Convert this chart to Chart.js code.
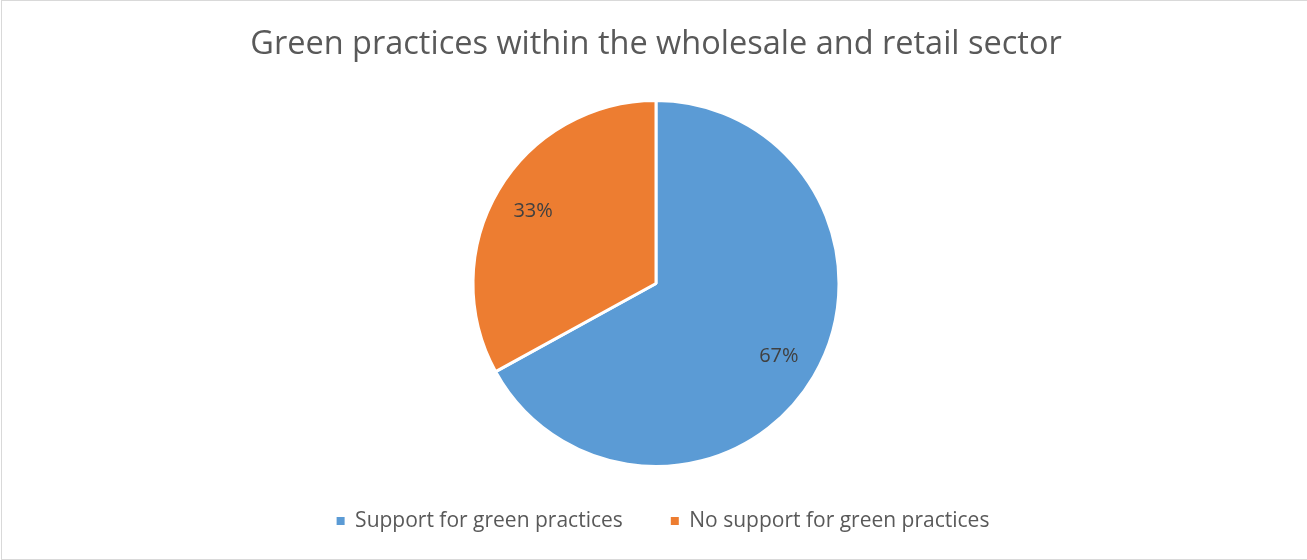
<!DOCTYPE html>
<html>
<head>
<meta charset="utf-8">
<title>Green practices</title>
<script src="https://cdn.jsdelivr.net/npm/chart.js@4/dist/chart.umd.min.js"></script>
<style>
  html, body { margin: 0; padding: 0; background: #fff; }
  .chart-view {
    position: relative;
    width: 1307px;
    height: 560px;
    box-sizing: border-box;
    border: 1px solid #d9d9d9;
    border-right: none;
    margin-left: 1px;
  }
  .chart { position: absolute; left: -1px; top: -1px; }
</style>
</head>
<body>
<div class="chart-view">
  <canvas class="chart" width="1307" height="560"></canvas>
</div>
<script>
const title = 'Green practices within the wholesale and retail sector';
const categories = ['Support for green practices', 'No support for green practices'];
const shares = [67, 33];
const colors = ['#5b9bd5', '#ed7d31'];

const FONT = `'Open Sans', 'Noto Sans', sans-serif`;
Chart.defaults.font.family = FONT;
Chart.defaults.color = '#595959';

// Fixed legend block height so the row sits near the bottom edge,
// and nudge the row a little to the right
const legendMargin = {
  id: 'legendMargin',
  beforeInit(chart) {
    const originalFit = chart.legend.fit;
    chart.legend.fit = function fit() {
      originalFit.bind(chart.legend)();
      this.height = 97.5;
    };
  },
  afterLayout(chart) {
    chart.legend.left += 7;
    chart.legend.right += 7;
  },
};

// Percent labels inside each slice
const sliceLabels = {
  id: 'sliceLabels',
  afterDatasetsDraw(chart) {
    const { ctx } = chart;
    const meta = chart.getDatasetMeta(0);
    ctx.save();
    ctx.font = `20px ${FONT}`;
    ctx.fillStyle = '#404040';
    ctx.textAlign = 'center';
    ctx.textBaseline = 'middle';
    meta.data.forEach((arc, i) => {
      const { x, y, startAngle, endAngle, outerRadius } = arc.getProps(
        ['x', 'y', 'startAngle', 'endAngle', 'outerRadius'], true);
      const mid = (startAngle + endAngle) / 2;
      const r = outerRadius * 0.78;
      ctx.fillText(`${shares[i]}%`, x + Math.cos(mid) * r, y + Math.sin(mid) * r);
    });
    ctx.restore();
  },
};

const canvas = document.querySelector('.chart');
const chart = new Chart(canvas, {
  type: 'pie',
  data: {
    labels: categories,
    datasets: [{
      data: shares,
      backgroundColor: colors,
      borderColor: '#ffffff',
      borderWidth: 3,
    }],
  },
  plugins: [legendMargin, sliceLabels],
  options: {
    responsive: false,
    animation: false,
    radius: 183,
    layout: { padding: { left: 3 } },
    plugins: {
      legendMargin,
      tooltip: { enabled: false },
      title: {
        display: true,
        text: title,
        color: '#595959',
        font: { size: 32.5, weight: 'normal' },
        padding: { top: 25, bottom: 40.5 },
      },
      legend: {
        display: true,
        position: 'bottom',
        labels: {
          boxWidth: 8,
          boxHeight: 8,
          padding: 48,
          color: '#595959',
          font: { size: 21 },
          // plain squares, without the white slice border
          generateLabels(chart) {
            const base = Chart.overrides.pie.plugins.legend.labels.generateLabels(chart);
            return base.map((item) => ({ ...item, lineWidth: 0 }));
          },
        },
      },
    },
  },
});
</script>
</body>
</html>
